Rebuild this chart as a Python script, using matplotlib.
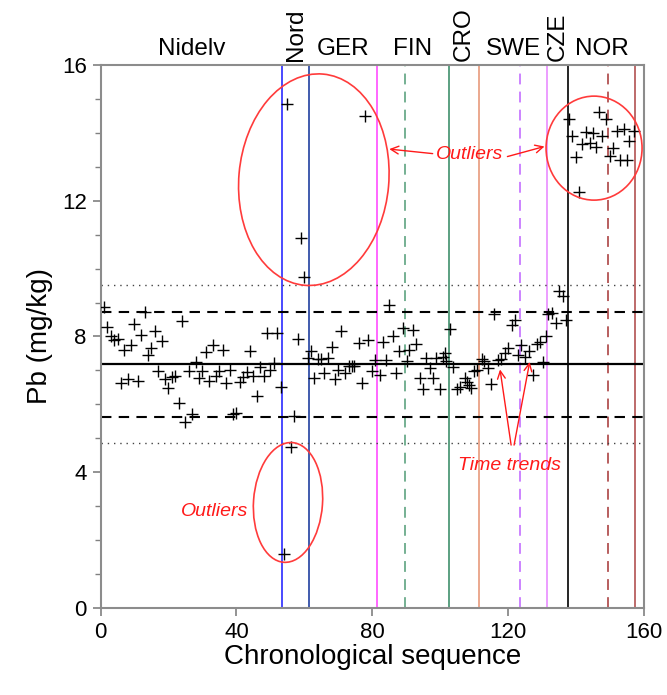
import matplotlib
matplotlib.use("Agg")
import matplotlib.pyplot as plt
from matplotlib.patches import Ellipse
import matplotlib.transforms as mtransforms

plt.rcParams['font.family'] = ['Liberation Sans', 'DejaVu Sans']

# chronological sequence number and Pb value (mg/kg)
seq = [1, 2, 3, 4, 5, 6, 7, 8, 9, 10, 11, 12, 13, 14, 15, 16, 17, 18, 19, 20,
       21, 22, 23, 24, 25, 26, 27, 28, 29, 30, 31, 32, 33, 34, 35, 36, 37, 38, 39, 40,
       41, 42, 43, 44, 45, 46, 47, 48, 49, 50, 51, 52, 53, 54, 55, 56, 57, 58, 59, 60,
       61.1, 61.9, 62.9, 64.1, 64.9, 65.8, 67, 68.2, 69, 70, 70.9, 71.9, 73.1, 73.9, 74.6,
       76, 77, 77.8, 78.8, 79.9, 80.9, 82.2, 83.1, 84, 84.9, 86, 86.9, 87.9, 89.1, 90.1,
       90.8, 92, 93, 94, 94.8, 95.9, 96.9, 97.9, 98.9, 99.9, 100.8, 101.3, 101.8, 102.8,
       103.8, 104.9, 105.7, 107.2, 107.9, 108.5, 109.2, 110.1, 110.8, 112.4, 112.8, 114,
       115, 115.7, 117, 118, 119, 120, 121, 122, 122.9, 123.9, 125.1, 126.1, 127.3, 128.5,
       129.3, 130.2, 131.2, 131.7, 133, 134, 135.1, 136.1, 137.1, 137.9, 138.9, 139.9,
       140.8, 141.8, 143, 144, 145, 146, 146.9, 147.7, 148.9, 149.9, 151, 152, 153, 154,
       155, 155.7, 157.2]
pb = [8.88, 8.28, 8.00, 7.90, 7.92, 6.64, 7.61, 6.74, 7.76, 8.37, 6.70, 8.05, 8.71, 7.44,
      7.66, 8.15, 6.99, 7.87, 6.74, 6.48, 6.80, 6.84, 6.04, 8.47, 5.49, 6.99, 5.72, 7.26,
      6.77, 6.99, 7.53, 6.70, 7.76, 6.84, 6.99, 7.61, 6.64, 7.02, 5.72, 5.75, 6.67, 6.82,
      6.94, 7.58, 6.84, 6.25, 7.10, 6.84, 8.10, 7.02, 7.23, 8.10, 6.50, 1.59, 14.86, 4.73,
      5.66, 7.92, 10.90, 9.75,
      7.36, 7.58, 6.77, 7.33, 7.33, 6.92, 7.36, 7.69, 6.74, 7.02, 8.15, 6.92, 7.14, 7.14,
      7.14, 7.80, 6.62, 14.51, 7.90, 6.97, 7.31, 6.87, 7.85, 7.31, 8.94, 8.02, 6.92, 7.56,
      8.25, 7.29, 7.59, 8.18, 7.78, 6.79, 6.46, 7.36, 7.07, 6.79, 7.36, 6.46, 7.41, 7.51,
      7.29, 8.22, 7.10, 6.45, 6.51, 6.77, 6.67, 6.58, 6.48, 6.97, 7.02, 7.33, 7.29, 7.07,
      6.60, 8.66, 7.31, 7.33, 7.51, 7.66, 8.35, 8.49, 7.46, 7.76, 7.39, 7.56, 6.87, 7.78,
      7.85, 7.26, 8.02, 8.67, 8.69, 8.40, 9.33, 9.18, 8.49, 14.41, 13.90, 13.28, 12.26,
      13.68, 14.02, 13.70, 14.00, 13.59, 14.61, 13.90, 14.41, 13.33, 13.56, 14.05, 13.19,
      14.12, 13.19, 13.75, 14.05]

mean_pb = 7.18
sd_pb = 0.775

# group boundaries and labels
bounds = [0, 53.5, 61.5, 81.5, 102.5, 111.5, 131.5, 137.5, 157.5]
groups = ['Nidelv', 'Nord', 'GER', 'FIN', 'CRO', 'SWE', 'CZE', 'NOR']
rotated = ['Nord', 'CRO', 'CZE']

vlines = [53.5, 61.5, 81.5, 89.5, 102.5, 111.5, 123.5, 131.5, 137.5, 149.5, 157.5]
vcolors = ['#2a2aff', '#2040a0', '#ff4dff', '#6aaa8a', '#3f906c', '#e89a7c',
           '#c87aff', '#e98cff', '#000000', '#b25252', '#b25252']
vstyles = ['-', '-', '-', '--', '-', '-', '--', '-', '-', '--', '-']

fig = plt.figure(figsize=(6.67, 6.95), dpi=100)
ax = fig.add_axes([0.1507, 0.1252, 0.8148, 0.7813])

ax.set_xlim(0, 160)
ax.set_ylim(0, 16)

for xv, c, ls in zip(vlines, vcolors, vstyles):
    if ls == '--':
        ax.axvline(xv, color=c, lw=1.3, linestyle=(0, (6, 4)), zorder=1)
    else:
        ax.axvline(xv, color=c, lw=1.2, zorder=1)

ax.axhline(mean_pb, color='black', lw=1.6, zorder=2)
for k in (-2, 2):
    ax.axhline(mean_pb + k * sd_pb, color='black', lw=1.5, linestyle=(0, (5, 3.5)), zorder=2)
for k in (-3, 3):
    ax.axhline(mean_pb + k * sd_pb, color='#444444', lw=1.0, linestyle=(0, (1, 3.5)), zorder=2)

ax.plot(seq, pb, linestyle='none', marker='+', color='black', markersize=8.5,
        markeredgewidth=1.0, zorder=3)

# group labels on top
for i, g in enumerate(groups):
    xc = (bounds[i] + bounds[i + 1]) / 2
    if g in rotated:
        ax.text(xc, 16.12, g, rotation=90, ha='center', va='bottom', fontsize=17.5)
    else:
        ax.text(xc, 16.15, g, ha='center', va='bottom', fontsize=17.5)


def ring(xc, yc, w, h, ang):
    tr = mtransforms.IdentityTransform() + mtransforms.ScaledTranslation(xc, yc, ax.transData)
    e = Ellipse((0, 0), w, h, angle=ang, transform=tr, fill=False,
                edgecolor='#ff3b3b', lw=1.2, zorder=4)
    ax.add_patch(e)


ring(62.8, 12.62, 150, 212, -5)
ring(55.2, 3.11, 69, 120, -4)
ring(145.3, 13.55, 96, 104, 0)

red = '#ff1a1a'
ax.text(108.7, 13.36, 'Outliers', color=red, style='italic', fontsize=14,
        ha='center', va='center')
ax.annotate('', xy=(84.2, 13.53), xytext=(98.6, 13.38),
            arrowprops=dict(arrowstyle='->', color=red, lw=1.0, mutation_scale=14))
ax.annotate('', xy=(131.5, 13.62), xytext=(119.0, 13.28),
            arrowprops=dict(arrowstyle='->', color=red, lw=1.0, mutation_scale=14))

ax.text(33.5, 2.83, 'Outliers', color=red, style='italic', fontsize=14,
        ha='center', va='center')

ax.text(120.5, 4.19, 'Time trends', color=red, style='italic', fontsize=14,
        ha='center', va='center')
ax.annotate('', xy=(117.5, 7.11), xytext=(121.0, 4.72),
            arrowprops=dict(arrowstyle='->', color=red, lw=1.0, mutation_scale=14))
ax.annotate('', xy=(126.5, 7.33), xytext=(121.6, 4.72),
            arrowprops=dict(arrowstyle='->', color=red, lw=1.0, mutation_scale=14))

ax.set_xticks([0, 40, 80, 120, 160])
ax.set_yticks([0, 4, 8, 12, 16])
ax.set_yticks(range(0, 17), minor=True)
ax.tick_params(axis='both', which='major', direction='out', length=6, width=1.2,
               color='#808080', labelsize=16, pad=4)
ax.tick_params(axis='y', which='minor', direction='out', length=4, width=1.0, color='#808080')

for sp in ax.spines.values():
    sp.set_color('#8c8c8c')
    sp.set_linewidth(1.5)

ax.set_xlabel('Chronological sequence', fontsize=20, labelpad=1)
ax.set_ylabel('Pb (mg/kg)', fontsize=20, labelpad=6)

fig.savefig('out.png', dpi=100)
